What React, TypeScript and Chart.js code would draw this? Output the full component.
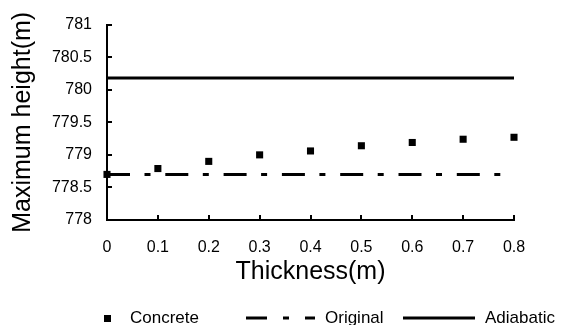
import React, { useEffect, useRef } from "react";
import { Chart, registerables } from "chart.js";

Chart.register(...registerables);

const thickness = [0, 0.1, 0.2, 0.3, 0.4, 0.5, 0.6, 0.7, 0.8];
const concrete = [778.7, 778.79, 778.9, 779.0, 779.06, 779.14, 779.19, 779.24, 779.27];
const originalX = [0, 0.78];
const originalY = [778.7, 778.7];
const adiabaticX = [0, 0.8];
const adiabaticY = [780.18, 780.18];
const yTickLabels = ["778", "778.5", "779", "779.5", "780", "780.5", "781"];
const xTickLabels = ["0", "0.1", "0.2", "0.3", "0.4", "0.5", "0.6", "0.7", "0.8"];
const seriesNames = ["Concrete", "Original", "Adiabatic"];

const FONT = "'Liberation Sans', Arial, sans-serif";
const DASH = [23, 14.5, 6, 14.8];

const inwardTicks = {
  id: "inwardTicks",
  afterDraw(chart: any) {
    const ctx = chart.ctx;
    const xs = chart.scales.x;
    const ys = chart.scales.y;
    const area = chart.chartArea;
    ctx.save();
    ctx.strokeStyle = "#000";
    ctx.lineWidth = 2;
    ctx.beginPath();
    ys.ticks.forEach((t: any) => {
      const y = Math.round(ys.getPixelForValue(t.value));
      ctx.moveTo(area.left, y);
      ctx.lineTo(area.left + 5, y);
    });
    xs.ticks.forEach((t: any) => {
      const x = Math.round(xs.getPixelForValue(t.value));
      ctx.moveTo(x, area.bottom);
      ctx.lineTo(x, area.bottom - 5);
    });
    ctx.stroke();
    ctx.restore();
  },
};

const customLegend = {
  id: "customLegend",
  afterDraw(chart: any) {
    const ctx = chart.ctx;
    const y = 318;
    ctx.save();
    ctx.font = `17px ${FONT}`;
    ctx.fillStyle = "#000";
    ctx.textBaseline = "middle";
    ctx.textAlign = "left";
    // Concrete marker
    ctx.fillRect(104, y - 3, 7, 7);
    ctx.fillText(seriesNames[0], 130, y);
    // Original marker
    ctx.strokeStyle = "#000";
    ctx.lineWidth = 3;
    ctx.setLineDash([21, 16, 6, 16]);
    ctx.beginPath();
    ctx.moveTo(246, y);
    ctx.lineTo(315, y);
    ctx.stroke();
    ctx.setLineDash([]);
    ctx.fillText(seriesNames[1], 325, y);
    // Adiabatic marker
    ctx.beginPath();
    ctx.moveTo(403, y);
    ctx.lineTo(475, y);
    ctx.stroke();
    ctx.fillText(seriesNames[2], 485, y);
    ctx.restore();
  },
};

export default function App() {
  const ref = useRef<HTMLCanvasElement | null>(null);
  useEffect(() => {
    if (!ref.current) return;
    Chart.defaults.font.family = FONT;
    Chart.defaults.color = "#000";
    const chart = new Chart(ref.current, {
      type: "scatter",
      data: {
        datasets: [
          {
            label: seriesNames[0],
            data: thickness.map((x, i) => ({ x, y: concrete[i] })),
            pointStyle: "rect",
            pointRadius: 5,
            backgroundColor: "#000",
            borderColor: "#000",
            borderWidth: 0,
            showLine: false,
            clip: false,
            order: 0,
          },
          {
            label: seriesNames[1],
            type: "line",
            data: originalX.map((x, i) => ({ x, y: originalY[i] })),
            borderColor: "#000",
            borderWidth: 3,
            borderDash: DASH,
            pointRadius: 0,
            fill: false,
            clip: false,
            order: 1,
          },
          {
            label: seriesNames[2],
            type: "line",
            data: adiabaticX.map((x, i) => ({ x, y: adiabaticY[i] })),
            borderColor: "#000",
            borderWidth: 3,
            pointRadius: 0,
            fill: false,
            clip: false,
            order: 2,
          },
        ] as any,
      },
      options: {
        animation: false,
        responsive: false,
        maintainAspectRatio: false,
        layout: { padding: { top: 23, right: 48, bottom: 27, left: 0 } },
        plugins: { legend: { display: false }, tooltip: { enabled: false } },
        scales: {
          x: {
            type: "linear",
            min: 0,
            max: 0.8,
            afterFit: (s: any) => {
              s.height = 78;
            },
            afterBuildTicks: (s: any) => {
              s.ticks = xTickLabels.map((l) => ({ value: parseFloat(l) }));
            },
            ticks: {
              font: { size: 16 },
              padding: 18,
              maxRotation: 0,
              autoSkip: false,
              callback: (_v: any, i: number) => xTickLabels[i],
            },
            grid: { display: false, drawTicks: false },
            border: { display: true, color: "#000", width: 2 },
            title: {
              display: true,
              text: "Thickness(m)",
              font: { size: 25 },
              padding: { top: 0, bottom: 11 },
            },
          },
          y: {
            type: "linear",
            min: 778,
            max: 781,
            afterFit: (s: any) => {
              s.width = 107;
            },
            afterBuildTicks: (s: any) => {
              s.ticks = yTickLabels.map((l) => ({ value: parseFloat(l) }));
            },
            ticks: {
              font: { size: 16 },
              padding: 15,
              autoSkip: false,
              callback: (_v: any, i: number) => yTickLabels[i],
            },
            grid: { display: false, drawTicks: false },
            border: { display: true, color: "#000", width: 2 },
            title: {
              display: true,
              text: "Maximum height(m)",
              font: { size: 25 },
              padding: { top: 8, bottom: 0 },
            },
          },
        },
      },
      plugins: [inwardTicks, customLegend],
    });
    return () => chart.destroy();
  }, []);
  return (
    <div style={{ position: "absolute", left: 0, top: 0, width: 562, height: 325, background: "#fff" }}>
      <canvas ref={ref} width={562} height={325} />
    </div>
  );
}
